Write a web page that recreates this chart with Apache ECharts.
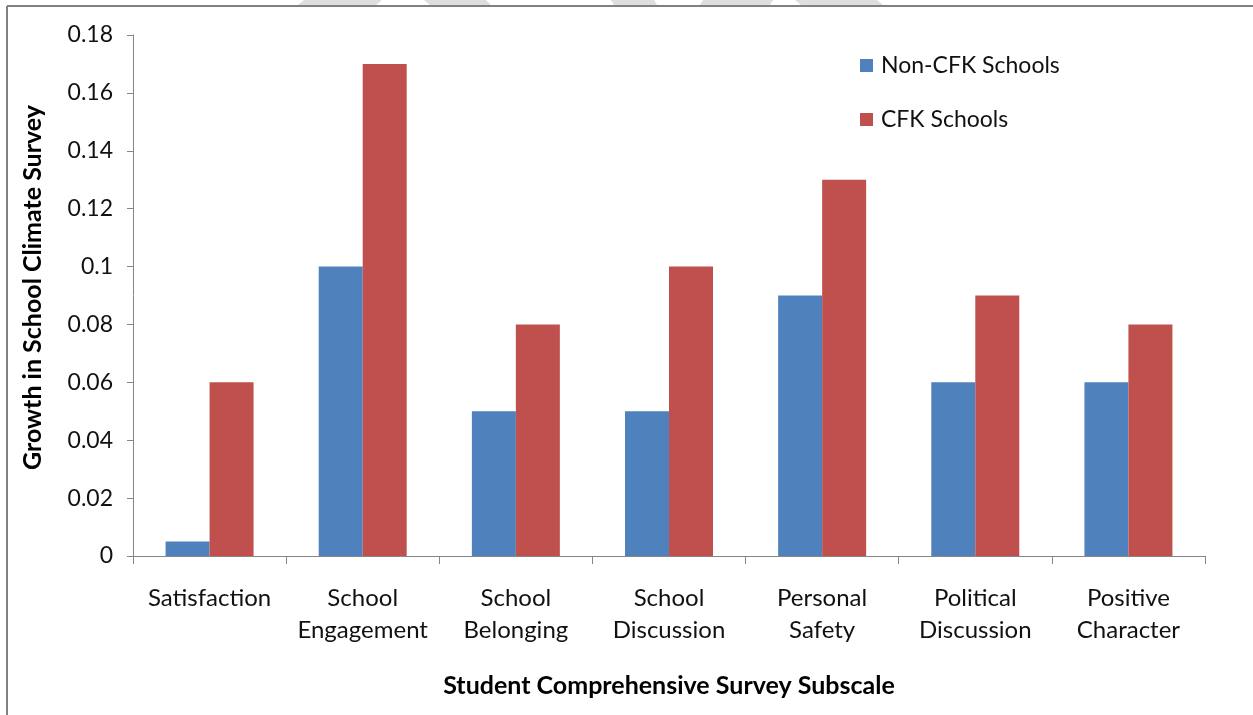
<!DOCTYPE html>
<html>
<head>
<meta charset="utf-8">
<script src="https://cdn.jsdelivr.net/npm/echarts@6/dist/echarts.min.js"></script>
<style>
  html, body { margin: 0; padding: 0; background: #fff; }
  #chart { width: 1253px; height: 715px; }
</style>
</head>
<body>
<div id="chart"></div>
<script>
// Survey subscales on the category axis
const categories = [
  'Satisfaction',
  'School\nEngagement',
  'School\nBelonging',
  'School\nDiscussion',
  'Personal\nSafety',
  'Political\nDiscussion',
  'Positive\nCharacter'
];
// Growth in school climate survey scores
const nonCfkValues = [0.005, 0.10, 0.05, 0.05, 0.09, 0.06, 0.06];
const cfkValues    = [0.06, 0.17, 0.08, 0.10, 0.13, 0.09, 0.08];
const seriesNames  = ['Non-CFK Schools', 'CFK Schools'];

const FONT = 'Lato, "Open Sans", sans-serif';
const AXIS_GREY = '#868686';

const chart = echarts.init(document.getElementById('chart'), null, { renderer: 'canvas' });

chart.setOption({
  animation: false,
  backgroundColor: '#fff',
  textStyle: { fontFamily: FONT, color: '#000' },
  grid: { left: 133, right: 48, top: 35, bottom: 159, containLabel: false },
  legend: {
    orient: 'vertical',
    left: 855,
    top: 49,
    itemWidth: 13,
    itemHeight: 13,
    itemGap: 31,
    icon: 'rect',
    textStyle: { fontFamily: FONT, fontSize: 23, color: '#111', padding: [0, 0, 0, 3] },
    data: seriesNames
  },
  xAxis: {
    type: 'category',
    data: categories,
    name: 'Student Comprehensive Survey Subscale',
    nameLocation: 'middle',
    nameGap: 117,
    nameTextStyle: { fontFamily: FONT, fontSize: 25, fontWeight: 'bold', color: '#000' },
    axisLine: { lineStyle: { color: AXIS_GREY, width: 1 } },
    axisTick: { show: true, alignWithLabel: false, length: 8, lineStyle: { color: AXIS_GREY } },
    axisLabel: {
      interval: 0,
      margin: 26,
      fontFamily: FONT,
      fontSize: 24,
      lineHeight: 32,
      color: '#111',
      verticalAlign: 'top'
    },
    splitLine: { show: false }
  },
  yAxis: {
    type: 'value',
    min: 0,
    max: 0.18,
    interval: 0.02,
    name: 'Growth in School Climate Survey',
    nameLocation: 'middle',
    nameGap: 88,
    nameTextStyle: { fontFamily: FONT, fontSize: 25, fontWeight: 'bold', color: '#000', padding: [0, 0, 0, 16] },
    axisLine: { show: true, lineStyle: { color: AXIS_GREY, width: 1 } },
    axisTick: { show: true, length: 6, lineStyle: { color: AXIS_GREY } },
    axisLabel: {
      margin: 20,
      fontFamily: FONT,
      fontSize: 23,
      color: '#111',
      formatter: v => String(+v.toFixed(2))
    },
    splitLine: { show: false }
  },
  series: [
    {
      name: seriesNames[0],
      type: 'bar',
      data: nonCfkValues,
      barWidth: 44,
      barGap: '0%',
      itemStyle: { color: '#4F81BD' }
    },
    {
      name: seriesNames[1],
      type: 'bar',
      data: cfkValues,
      barWidth: 44,
      barGap: '0%',
      itemStyle: { color: '#C0504D' }
    }
  ],
  graphic: [
    // faint page marks above the frame
    { type: 'polygon', silent: true, shape: { points: [[298, 5], [304, 0], [382, 0], [376, 5]] }, style: { fill: '#dedede' } },
    { type: 'polygon', silent: true, shape: { points: [[424, 0], [486, 0], [491, 5], [430, 5]] }, style: { fill: '#dedede' } },
    { type: 'polygon', silent: true, shape: { points: [[611, 0], [654, 0], [657, 5], [614, 5]] }, style: { fill: '#dedede' } },
    { type: 'polygon', silent: true, shape: { points: [[700, 5], [703, 0], [773, 0], [770, 5]] }, style: { fill: '#dedede' } },
    { type: 'polygon', silent: true, shape: { points: [[795, 0], [877, 0], [883, 5], [801, 5]] }, style: { fill: '#dedede' } },
    // chart frame (top and left edges)
    { type: 'line', silent: true, shape: { x1: 7, y1: 6, x2: 1253, y2: 6 }, style: { stroke: '#808080', lineWidth: 2 } },
    { type: 'line', silent: true, shape: { x1: 7, y1: 6, x2: 7, y2: 715 }, style: { stroke: '#808080', lineWidth: 2 } }
  ]
});
</script>
</body>
</html>
